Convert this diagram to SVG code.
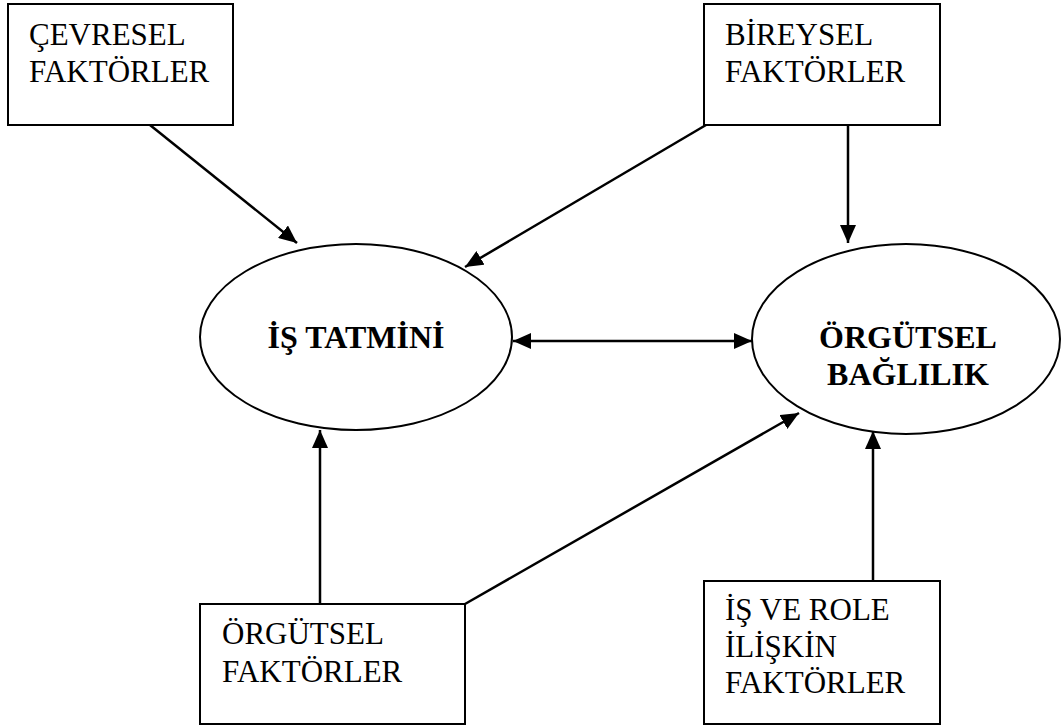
<svg xmlns="http://www.w3.org/2000/svg" width="1064" height="727" viewBox="0 0 1064 727">
<style>
.box{fill:#fff;stroke:#000;stroke-width:2}
.ell{fill:#fff;stroke:#000;stroke-width:2}
.t{font-family:"Liberation Serif","Times New Roman",serif;font-size:31px;fill:#000}
.b{font-family:"Liberation Serif","Times New Roman",serif;font-size:32px;font-weight:bold;fill:#000;text-anchor:middle}
.c{fill:none;stroke:#000;stroke-width:2.5}
</style>
<defs>
<marker id="ah" viewBox="0 0 18 16" refX="18" refY="8" markerWidth="18" markerHeight="16" markerUnits="userSpaceOnUse" orient="auto-start-reverse">
<path d="M0,0 L18,8 L0,16 Z" fill="#000"/>
</marker>
</defs>
<rect width="1064" height="727" fill="#fff"/>
<g id="connectors">
<line class="c" x1="150" y1="125" x2="297" y2="243" marker-end="url(#ah)"/>
<line class="c" x1="706" y1="125" x2="465" y2="267" marker-end="url(#ah)"/>
<line class="c" x1="848" y1="125" x2="848" y2="243" marker-end="url(#ah)"/>
<line class="c" x1="513" y1="341" x2="752" y2="341" marker-start="url(#ah)" marker-end="url(#ah)"/>
<line class="c" x1="320" y1="604" x2="320" y2="430" marker-end="url(#ah)"/>
<line class="c" x1="465" y1="604" x2="799" y2="413" marker-end="url(#ah)"/>
<line class="c" x1="873" y1="581" x2="873" y2="431" marker-end="url(#ah)"/>
</g>
<g id="cevresel">
<rect class="box" x="8" y="4" width="225" height="121"/>
<text class="t" x="29" y="45">ÇEVRESEL</text>
<text class="t" x="29" y="82">FAKTÖRLER</text>
</g>
<g id="bireysel">
<rect class="box" x="704" y="4" width="236" height="121"/>
<text class="t" x="725" y="45">BİREYSEL</text>
<text class="t" x="725" y="82">FAKTÖRLER</text>
</g>
<g id="is-tatmini">
<ellipse class="ell" cx="356" cy="337" rx="156" ry="93"/>
<text class="b" x="356" y="348">İŞ TATMİNİ</text>
</g>
<g id="orgutsel-baglilik">
<ellipse class="ell" cx="906" cy="339" rx="154" ry="95"/>
<text class="b" x="908" y="348">ÖRGÜTSEL</text>
<text class="b" x="908" y="385">BAĞLILIK</text>
</g>
<g id="orgutsel-faktorler">
<rect class="box" x="200" y="604" width="265" height="120"/>
<text class="t" x="222" y="644">ÖRGÜTSEL</text>
<text class="t" x="222" y="682">FAKTÖRLER</text>
</g>
<g id="is-ve-role">
<rect class="box" x="704" y="581" width="236" height="143"/>
<text class="t" x="725" y="620">İŞ VE ROLE</text>
<text class="t" x="725" y="657">İLİŞKİN</text>
<text class="t" x="725" y="693">FAKTÖRLER</text>
</g>
</svg>
